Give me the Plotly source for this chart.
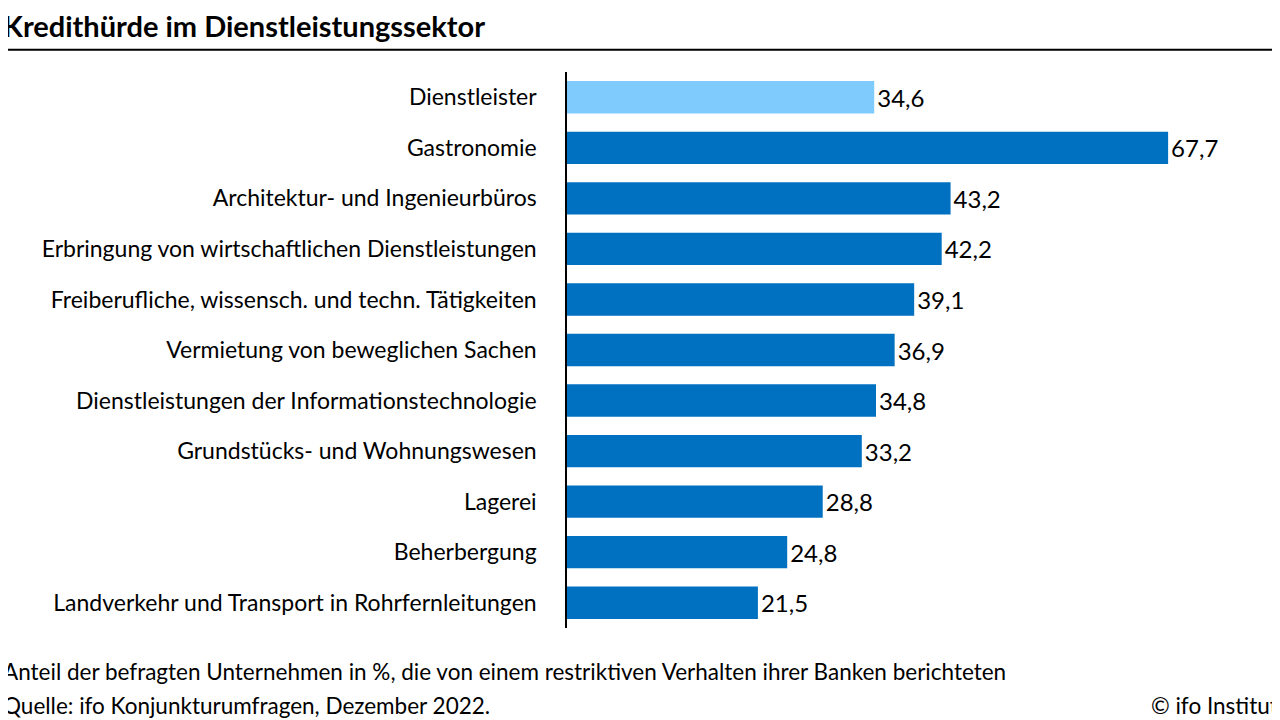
import plotly.graph_objects as go

categories = ["Dienstleister", "Gastronomie", "Architektur- und Ingenieurbüros",
              "Erbringung von wirtschaftlichen Dienstleistungen",
              "Freiberufliche, wissensch. und techn. Tätigkeiten",
              "Vermietung von beweglichen Sachen",
              "Dienstleistungen der Informationstechnologie",
              "Grundstücks- und Wohnungswesen", "Lagerei", "Beherbergung",
              "Landverkehr und Transport in Rohrfernleitungen"]
values = [34.6, 67.7, 43.2, 42.2, 39.1, 36.9, 34.8, 33.2, 28.8, 24.8, 21.5]
labels = [f"{v:.1f}".replace(".", ",") for v in values]
colors = ["#7fcbfd"] + ["#0070c0"] * (len(values) - 1)

FONT = "Lato, Noto Sans, sans-serif"
L = 559
PW = 713
X0 = -(L - 0) / PW  # left edge of page in paper coords

fig = go.Figure(go.Bar(
    x=values, y=categories, orientation="h", width=0.64,
    marker=dict(color=colors, line=dict(width=0)),
    text=labels, textposition="outside", cliponaxis=False,
    textfont=dict(size=24, color="#000"),
))

fig.update_layout(
    width=1272, height=712, plot_bgcolor="white", paper_bgcolor="white",
    margin=dict(l=L, r=0, t=64, b=92),
    font=dict(family=FONT, color="#000"),
    showlegend=False, bargap=0.36,
    xaxis=dict(range=[0, 80.3], visible=False),
    yaxis=dict(autorange="reversed", showline=True, linecolor="#000", linewidth=1.5,
               ticks="", tickfont=dict(size=23), ticklabelstandoff=24, showgrid=False),
    shapes=[dict(type="line", xref="paper", yref="paper", x0=X0 - 0.02, x1=1, y0=0.04, y1=0.04,
                 line=dict(color="#000", width=2))],
    annotations=[
        dict(text="<b>Kredithürde im Dienstleistungssektor</b>", xref="paper", yref="paper",
             x=X0 - 0.01, y=1.083, xanchor="left", yanchor="middle", showarrow=False,
             font=dict(size=29)),
        dict(text="Anteil der befragten Unternehmen in %, die von einem restriktiven Verhalten ihrer Banken berichteten",
             xref="paper", yref="paper", x=X0 - 0.01, y=-0.079, xanchor="left", yanchor="middle",
             showarrow=False, font=dict(size=22.5)),
        dict(text="Quelle: ifo Konjunkturumfragen, Dezember 2022.",
             xref="paper", yref="paper", x=X0 - 0.01, y=-0.14, xanchor="left", yanchor="middle",
             showarrow=False, font=dict(size=22.5)),
        dict(text="© ifo Institut", xref="paper", yref="paper", x=1.0, y=-0.14,
             xanchor="right", yanchor="middle", showarrow=False, font=dict(size=22.5)),
    ],
)
fig.layout.shapes[0].y0 = 1.04
fig.layout.shapes[0].y1 = 1.04

fig.write_html("out.html")
